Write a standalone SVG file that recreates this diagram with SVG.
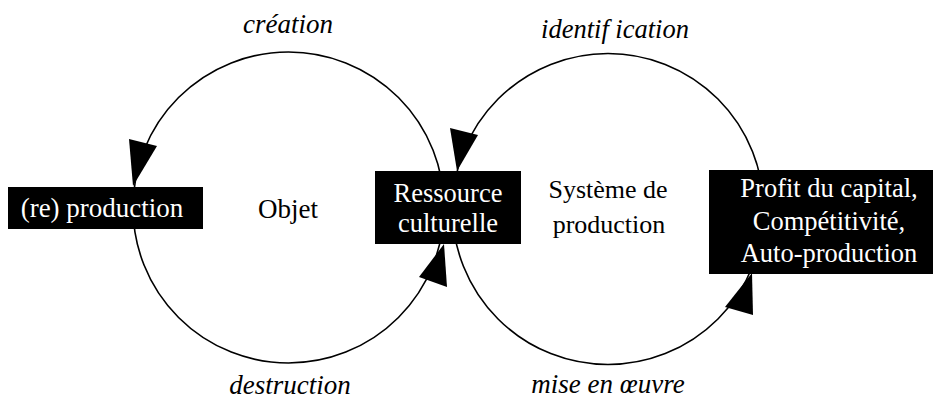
<svg xmlns="http://www.w3.org/2000/svg" width="939" height="401" viewBox="0 0 939 401">
<style>
.c{fill:none;stroke:#000;stroke-width:1.6}
.ah{fill:#000;stroke:none}
.box{fill:#000}
text{font-family:'Liberation Serif','DejaVu Serif',serif}
.t{font-size:26.5px;fill:#fff;text-anchor:middle}
.b{font-size:26px;fill:#000;text-anchor:middle}
.i{font-size:27px;font-style:italic;fill:#000;text-anchor:middle}
</style>
<rect width="939" height="401" fill="#fff"/>
<g id="connectors">
<circle class="c" cx="288.5" cy="207.5" r="155.5"/>
<circle class="c" cx="608" cy="209" r="155.5"/>
</g>
<g id="labels">
<text class="i" x="288" y="33">création</text>
<text class="i" x="615" y="38" style="font-size:26.5px">identif ication</text>
<text class="i" x="290" y="394">destruction</text>
<text class="i" x="608" y="393">mise en œuvre</text>
<text class="b" x="288" y="218" style="font-size:27px">Objet</text>
<text class="b" x="608" y="198">Système de</text>
<text class="b" x="609" y="233">production</text>
</g>
<g id="node-reproduction">
<rect class="box" x="8" y="187" width="195" height="42"/>
<text class="t" x="102" y="217" style="font-size:27px">(re) production</text>
</g>
<g id="node-ressource">
<rect class="box" x="375" y="171" width="146" height="73"/>
<text class="t" x="448" y="202">Ressource</text>
<text class="t" x="448" y="232">culturelle</text>
</g>
<g id="node-profit">
<rect class="box" x="709" y="170" width="224" height="104"/>
<text class="t" x="829" y="197">Profit du capital,</text>
<text class="t" x="829" y="230">Compétitivité,</text>
<text class="t" x="829" y="262">Auto-production</text>
</g>
<g id="arrowheads">
<polygon class="ah" points="129,139 157,146 133,186"/>
<polygon class="ah" points="450,128 478,135 457,171"/>
<polygon class="ah" points="419,277 447,287 444,244"/>
<polygon class="ah" points="725,307 753,315 752,273"/>
</g>
</svg>
